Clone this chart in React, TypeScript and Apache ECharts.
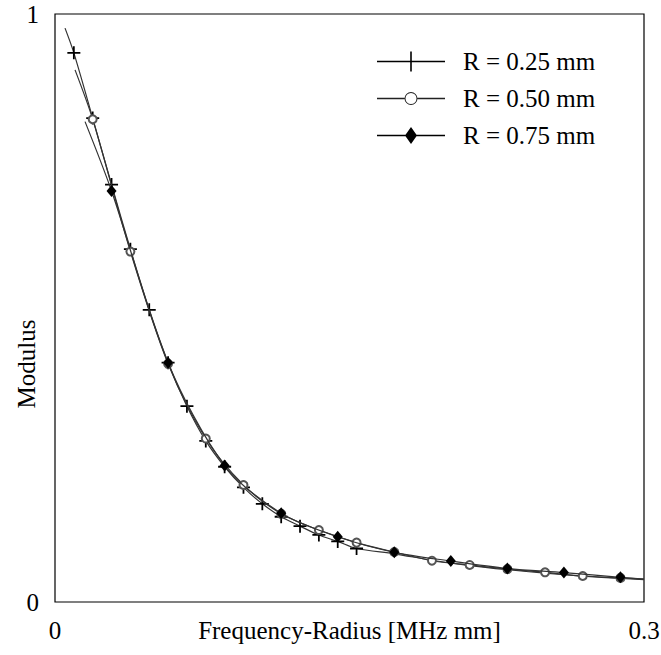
import React, { useEffect, useRef } from "react";
import * as echarts from "echarts";

// Marker positions (x: frequency-radius, y: modulus)
const r25X = [0.0096, 0.0192, 0.0288, 0.0384, 0.048, 0.0576, 0.0672, 0.0768, 0.0864, 0.096, 0.1056, 0.1152, 0.1248, 0.1344, 0.144, 0.1536];
const r25Y = [0.934, 0.823, 0.71, 0.6, 0.497, 0.407, 0.333, 0.274, 0.23, 0.195, 0.167, 0.145, 0.129, 0.114, 0.103, 0.091];
// line-only points (curve start and tail beyond markers)
const r25LineX = [0.0051, 0.1728, 0.192, 0.2112, 0.2304, 0.2496, 0.2688, 0.288, 0.3];
const r25LineY = [0.976, 0.082, 0.071, 0.062, 0.055, 0.049, 0.044, 0.04, 0.038];

const r50X = [0.0192, 0.0384, 0.0576, 0.0768, 0.096, 0.1152, 0.1344, 0.1536, 0.1728, 0.192, 0.2112, 0.2304, 0.2496, 0.2688, 0.288];
const r50Y = [0.821, 0.596, 0.405, 0.278, 0.199, 0.15, 0.1224, 0.101, 0.085, 0.0702, 0.063, 0.056, 0.0505, 0.0442, 0.041];
const r50LineX = [0.0102, 0.3];
const r50LineY = [0.905, 0.039];

const r75X = [0.0288, 0.0576, 0.0864, 0.1152, 0.144, 0.1728, 0.2016, 0.2304, 0.2592, 0.288];
const r75Y = [0.699, 0.407, 0.232, 0.151, 0.111, 0.0845, 0.0697, 0.057, 0.05, 0.042];
const r75LineX = [0.0153, 0.3];
const r75LineY = [0.817, 0.039];

const seriesNames = ["R = 0.25 mm", "R = 0.50 mm", "R = 0.75 mm"];
const xTicks = [0, 0.3];
const yTicks = [0, 1];

const FONT = "'Liberation Serif', 'Times New Roman', serif";
const FS = 25;

const crossSymbol = "path://M5.7,0H7.5V5.7H13.2V7.5H7.5V13.2H5.7V7.5H0V5.7H5.7Z";

const crossIcon = "path://M0,9.3H68V10.7H0Z M33.2,0H34.8V20H33.2Z";
const circleIcon =
  "path://M0,9.3H27.5V10.7H0Z M40.5,9.3H68V10.7H40.5Z M40.5,10A6.5,6.5 0 1,1 27.5,10A6.5,6.5 0 1,1 40.5,10Z M39.5,10A5.5,5.5 0 1,0 28.5,10A5.5,5.5 0 1,0 39.5,10Z";
const diamondIcon = "path://M0,9.3H68V10.7H0Z M34,1.5L40,10L34,18.5L28,10Z";

function buildData(mx: number[], my: number[], lx: number[], ly: number[]) {
  const pts: any[] = [];
  mx.forEach((x, i) => pts.push({ value: [x, my[i]] }));
  lx.forEach((x, i) => pts.push({ value: [x, ly[i]], symbol: "none" }));
  pts.sort((a, b) => a.value[0] - b.value[0]);
  return pts;
}

export default function App() {
  const ref = useRef<HTMLDivElement>(null);
  useEffect(() => {
    document.body.style.margin = "0";
    const chart = echarts.init(ref.current!, undefined, { renderer: "svg" });
    const lineCommon = {
      type: "line" as const,
      smooth: 0.3,
      showAllSymbol: true,
      lineStyle: { color: "#333", width: 1.2 },
    };
    chart.setOption({
      animation: false,
      backgroundColor: "#fff",
      grid: {
        left: 55,
        right: 17,
        top: 14,
        bottom: 53,
        show: true,
        borderColor: "#000",
        borderWidth: 1.2,
        backgroundColor: "transparent",
        containLabel: false,
        outerBoundsMode: "none",
      },
      legend: {
        orient: "vertical",
        left: 372,
        top: 44,
        itemWidth: 68,
        itemHeight: 20,
        itemGap: 12,
        selectedMode: false,
        textStyle: { fontSize: FS, fontFamily: FONT, color: "#000", padding: [0, 0, 0, 13] },
        data: [
          { name: seriesNames[0], icon: crossIcon, itemStyle: { color: "#000", borderWidth: 0 } },
          { name: seriesNames[1], icon: circleIcon, itemStyle: { color: "#222", borderWidth: 0 } },
          { name: seriesNames[2], icon: diamondIcon, itemStyle: { color: "#000", borderWidth: 0 } },
        ],
      },
      xAxis: {
        type: "value",
        min: xTicks[0],
        max: xTicks[1],
        interval: xTicks[1] - xTicks[0],
        axisLine: { show: false },
        axisTick: { show: false },
        splitLine: { show: false },
        axisLabel: {
          fontSize: FS,
          fontFamily: FONT,
          color: "#000",
          margin: 16,
          formatter: (v: number) => String(v),
        },
        name: "Frequency-Radius [MHz mm]",
        nameLocation: "middle",
        nameGap: 16,
        nameMoveOverlap: false,
        nameTextStyle: { fontSize: FS, fontFamily: FONT, color: "#000", verticalAlign: "top" },
      },
      yAxis: {
        type: "value",
        min: yTicks[0],
        max: yTicks[1],
        interval: yTicks[1] - yTicks[0],
        axisLine: { show: false },
        axisTick: { show: false },
        splitLine: { show: false },
        axisLabel: { fontSize: FS, fontFamily: FONT, color: "#000", margin: 16 },
      },
      graphic: [
        {
          type: "text",
          x: 26,
          y: 364,
          rotation: Math.PI / 2,
          style: {
            text: "Modulus",
            fontSize: FS,
            fontFamily: FONT,
            fill: "#000",
            align: "center",
            verticalAlign: "middle",
          },
        },
      ],
      series: [
        {
          ...lineCommon,
          name: seriesNames[0],
          symbol: crossSymbol,
          symbolSize: 13,
          itemStyle: { color: "#000", borderWidth: 0 },
          data: buildData(r25X, r25Y, r25LineX, r25LineY),
          z: 2,
        },
        {
          ...lineCommon,
          name: seriesNames[1],
          symbol: "emptyCircle",
          symbolSize: 8,
          itemStyle: { color: "#555", borderColor: "#555", borderWidth: 1 },
          data: buildData(r50X, r50Y, r50LineX, r50LineY),
          z: 3,
        },
        {
          ...lineCommon,
          name: seriesNames[2],
          symbol: "diamond",
          symbolSize: [10, 12],
          itemStyle: { color: "#000", borderWidth: 0 },
          data: buildData(r75X, r75Y, r75LineX, r75LineY),
          z: 4,
        },
      ],
    });
    return () => chart.dispose();
  }, []);
  return (
    <div
      ref={ref}
      style={{ position: "absolute", left: 0, top: 0, width: 661, height: 655 }}
    />
  );
}
